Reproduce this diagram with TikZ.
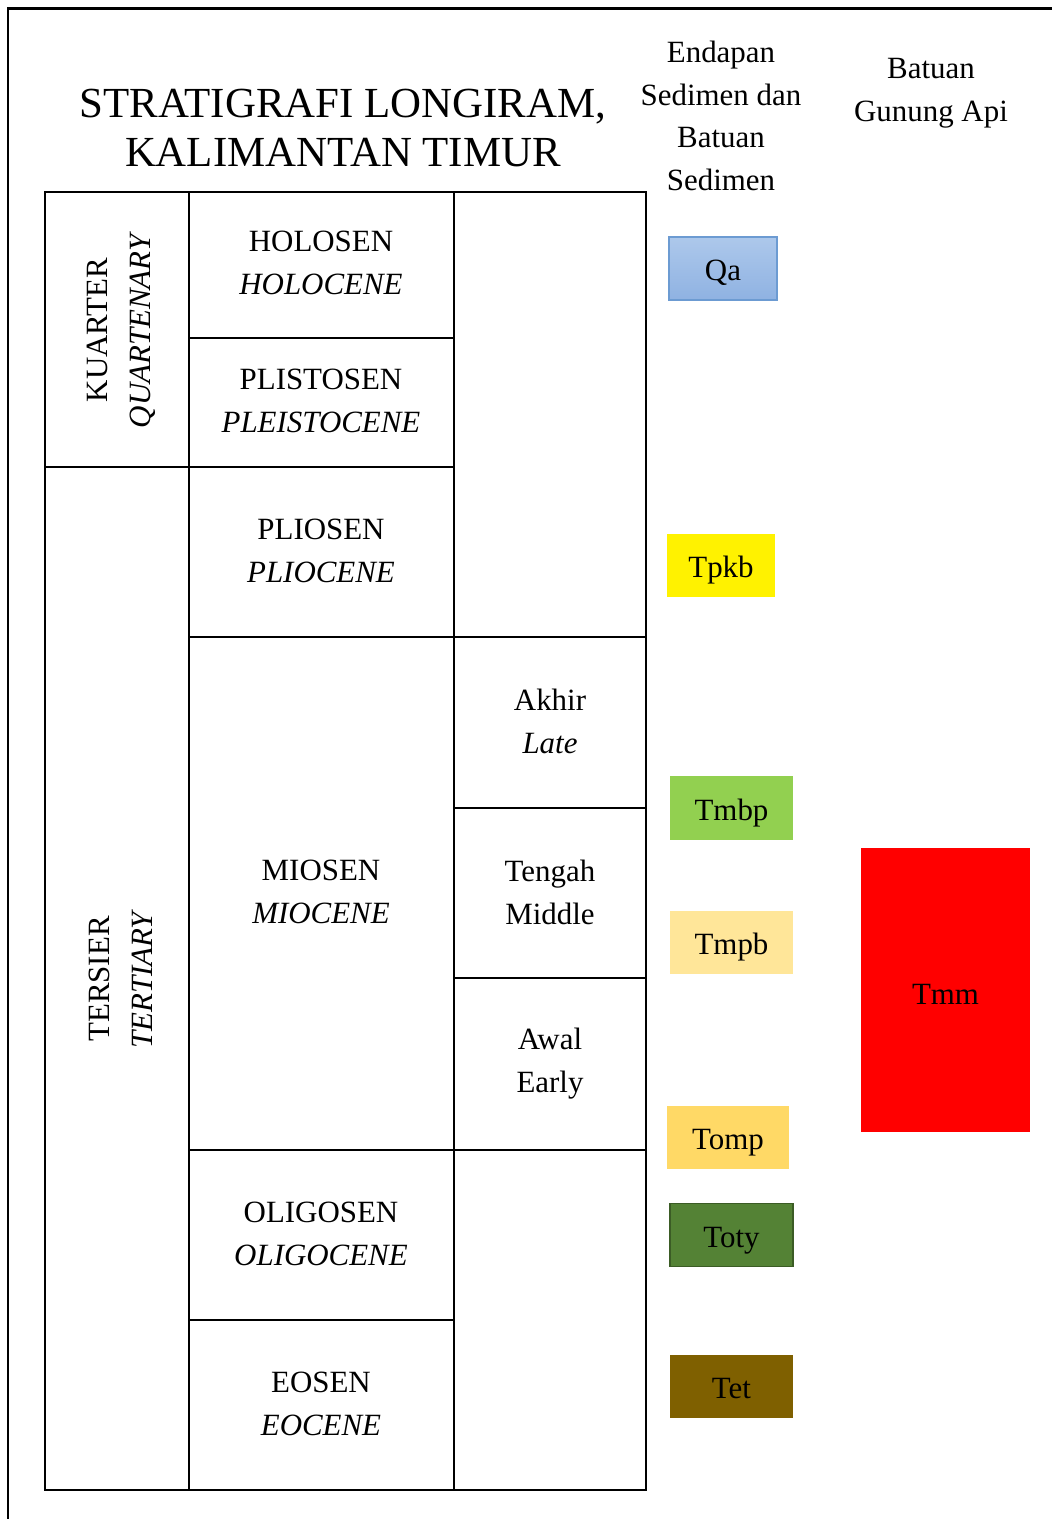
\documentclass[tikz,border=0pt]{standalone}
\usepackage{fontspec}
\setmainfont{Liberation Serif}
\usepackage{tikz}

\definecolor{qatop}{RGB}{173,200,235}
\definecolor{qabot}{RGB}{143,178,226}
\definecolor{qaedge}{RGB}{108,155,210}
\definecolor{tmbp}{RGB}{146,208,80}
\definecolor{tmpb}{RGB}{255,230,153}
\definecolor{tomp}{RGB}{255,217,102}
\definecolor{toty}{RGB}{84,130,53}
\definecolor{totyedge}{RGB}{59,92,37}
\definecolor{tet}{RGB}{127,96,0}

\begin{document}
\begin{tikzpicture}[x=0.02cm, y=-0.02cm,
  txt/.style={align=center, inner sep=0pt, font=\fontsize{17.6}{24.4}\selectfont},
  unit/.style={txt, minimum width=2.46cm, minimum height=1.27cm,
    text height=0.5cm, text depth=0.02cm},
  tab/.style={line width=1.3pt}]
\useasboundingbox (0,0) rectangle (1052,1519);
\draw[line width=1.7pt] (8,1519) -- (8,8) -- (1052,8);

% title and column heads
\node[align=center, font=\fontsize{24.4}{28.3}\selectfont] (title) at (343,128)
  {STRATIGRAFI LONGIRAM,\\KALIMANTAN TIMUR};
\node[txt, font=\fontsize{17.6}{24.2}\selectfont] (sed) at (721,116)
  {Endapan\\Sedimen dan\\Batuan\\Sedimen};
\node[txt, font=\fontsize{17.6}{24.2}\selectfont] (vol) at (931,93)
  {Batuan\\Gunung Api};

% table
\draw[tab] (45,192) rectangle (646,1490);
\draw[tab] (189,192) -- (189,1490);
\draw[tab] (454,192) -- (454,1490);
\draw[tab] (45,467) -- (454,467);
\draw[tab] (189,338) -- (454,338);
\draw[tab] (189,637) -- (646,637);
\draw[tab] (454,808) -- (646,808);
\draw[tab] (454,978) -- (646,978);
\draw[tab] (189,1150) -- (646,1150);
\draw[tab] (189,1320) -- (454,1320);

\node[txt, rotate=90] (kua) at (121,330) {KUARTER\\\textit{QUARTENARY}};
\node[txt, rotate=90] (ter) at (121,979) {TERSIER\\\textit{TERTIARY}};

\node[txt] (hol) at (321,263) {HOLOSEN\\\textit{HOLOCENE}};
\node[txt] (ple) at (321,401) {PLISTOSEN\\\textit{PLEISTOCENE}};
\node[txt] (pli) at (321,551) {PLIOSEN\\\textit{PLIOCENE}};
\node[txt] (mio) at (321,892) {MIOSEN\\\textit{MIOCENE}};
\node[txt] (oli) at (321,1234) {OLIGOSEN\\\textit{OLIGOCENE}};
\node[txt] (eos) at (321,1404) {EOSEN\\\textit{EOCENE}};

\node[txt] (lat) at (550,721) {Akhir\\\textit{Late}};
\node[txt] (mid) at (550,892) {Tengah\\Middle};
\node[txt] (ear) at (550,1064) {Awal\\Early};

% rock units
\node[unit, draw=qaedge, line width=1pt, top color=qatop, bottom color=qabot,
  minimum width=2.16cm] (qa) at (723,268.5) {Qa};
\node[unit, fill=yellow, minimum width=2.16cm] (tpkb) at (721,565.5) {Tpkb};
\node[unit, fill=tmbp] (tmbp) at (731.5,808) {Tmbp};
\node[unit, fill=tmpb] (tmpb) at (731.5,942.5) {Tmpb};
\node[unit, fill=tomp, minimum width=2.44cm] (tomp) at (728,1137.5) {Tomp};
\node[unit, fill=toty, draw=totyedge, line width=0.8pt] (toty) at (731.5,1235) {Toty};
\node[unit, fill=tet] (tet) at (731.5,1386.5) {Tet};
\node[unit, fill=red, minimum width=3.38cm, minimum height=5.68cm,
  text height=0.6cm] (tmm) at (945.5,990) {Tmm};
\end{tikzpicture}
\end{document}
